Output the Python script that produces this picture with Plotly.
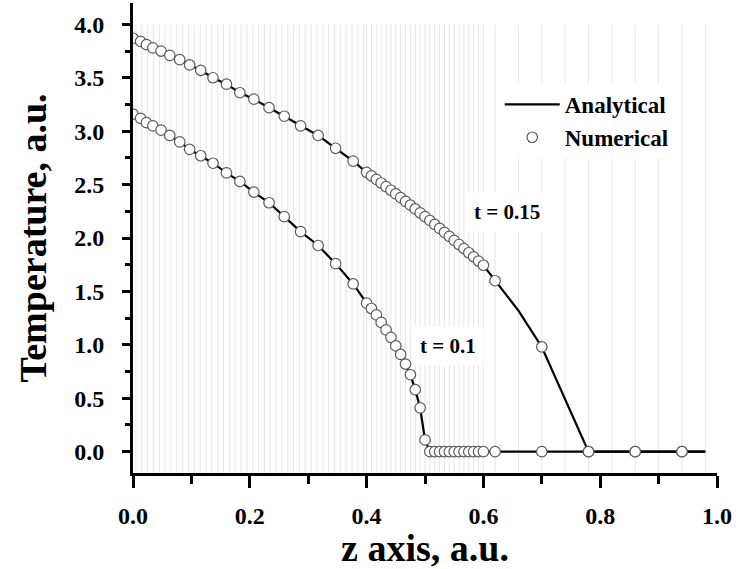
import plotly.graph_objects as go
import numpy as np

# ---------------- data ----------------
# shared numerical node positions (z)
z_nodes = [0.000, 0.013, 0.023, 0.034, 0.048, 0.063, 0.080, 0.097, 0.116, 0.137,
           0.160, 0.183, 0.207, 0.233, 0.259, 0.287, 0.317, 0.347, 0.377,
           0.4000, 0.4083, 0.4167, 0.4250, 0.4333, 0.4417, 0.4500, 0.4583, 0.4667,
           0.4750, 0.4833, 0.4917, 0.5000, 0.5083, 0.5167, 0.5250, 0.5333, 0.5417,
           0.5500, 0.5583, 0.5667, 0.5750, 0.5833, 0.5917, 0.6000,
           0.62, 0.70, 0.78, 0.86, 0.94]

# numerical temperatures, t = 0.15
T_num_015 = [3.87, 3.84, 3.81, 3.78, 3.75, 3.71, 3.67, 3.62, 3.57, 3.50,
             3.44, 3.36, 3.30, 3.22, 3.14, 3.05, 2.96, 2.84, 2.72,
             2.615, 2.582, 2.549, 2.515, 2.481, 2.447, 2.413, 2.378, 2.343,
             2.307, 2.272, 2.236, 2.200, 2.164, 2.127, 2.090, 2.053, 2.015,
             1.978, 1.939, 1.901, 1.862, 1.824, 1.784, 1.745,
             1.60, 0.98, 0.0, 0.0, 0.0]

# numerical temperatures, t = 0.1
T_num_010 = [3.16, 3.12, 3.08, 3.05, 3.01, 2.96, 2.90, 2.83, 2.77, 2.70,
             2.61, 2.53, 2.43, 2.33, 2.20, 2.06, 1.93, 1.76, 1.57,
             1.39, 1.34, 1.28, 1.21, 1.14, 1.07, 0.99, 0.91, 0.82,
             0.72, 0.58, 0.41, 0.11, 0.0, 0.0, 0.0, 0.0, 0.0,
             0.0, 0.0, 0.0, 0.0, 0.0, 0.0, 0.0,
             0.0, 0.0, 0.0, 0.0, 0.0]

# analytical curve: nodes up to z = 0.62 plus the coarse analytic points beyond
z_ana_tail_015 = [0.66, 0.70, 0.74, 0.78, 0.82, 0.86, 0.90, 0.94, 0.98]
T_ana_tail_015 = [1.32, 0.98, 0.49, 0.0, 0.0, 0.0, 0.0, 0.0, 0.0]
z_ana_tail_010 = [0.98]
T_ana_tail_010 = [0.0]

labels = ["t = 0.15", "t = 0.1"]
label_pos = [(0.640, 2.24), (0.539, 0.99)]

# background mesh lines (grey verticals)
mesh_fine_step = 0.01
mesh_finer_step = 1 / 120
mesh_coarse = [0.62, 0.66, 0.70, 0.74, 0.78, 0.82, 0.86, 0.90, 0.94, 0.98]
mesh_top, mesh_bottom = 4.0, -0.2

# ---------------- figure ----------------
FONT = "Liberation Serif"

mesh_x = list(np.arange(0.005, 0.4, mesh_fine_step)) + \
    list(np.arange(0.4, 0.6 + 1e-9, mesh_finer_step)) + mesh_coarse
gx, gy = [], []
for m in mesh_x:
    gx += [m, m, None]
    gy += [mesh_bottom, mesh_top, None]

fig = go.Figure()
fig.add_trace(go.Scatter(x=gx, y=gy, mode="lines",
                         line=dict(color="#e6e6e6", width=1),
                         hoverinfo="skip", showlegend=False))

n_keep = z_nodes.index(0.62) + 1
z_ana_015 = z_nodes[:n_keep] + z_ana_tail_015
T_ana_015 = T_num_015[:n_keep] + T_ana_tail_015
z_ana_010 = z_nodes + z_ana_tail_010
T_ana_010 = T_num_010 + T_ana_tail_010

line_style = dict(color="black", width=2.2)
fig.add_trace(go.Scatter(x=z_ana_015, y=T_ana_015, mode="lines", line=line_style,
                         name="Analytical", showlegend=True))
fig.add_trace(go.Scatter(x=z_ana_010, y=T_ana_010, mode="lines", line=line_style,
                         name="Analytical", showlegend=False))

marker_style = dict(symbol="circle", size=10.5, color="white",
                    line=dict(color="#5a5a5a", width=1.2))
fig.add_trace(go.Scatter(x=z_nodes, y=T_num_015, mode="markers", marker=marker_style,
                         name="Numerical", showlegend=True))
fig.add_trace(go.Scatter(x=z_nodes, y=T_num_010, mode="markers", marker=marker_style,
                         name="Numerical", showlegend=False))

for txt, (ax, ay) in zip(labels, label_pos):
    fig.add_annotation(x=ax, y=ay, text=txt, showarrow=False, bgcolor="white",
                       borderpad=7,
                       font=dict(family=FONT, size=21, color="black", weight="bold"))

tickfont = dict(family=FONT, size=24, color="black", weight="bold")
titlefont = dict(family=FONT, size=38, color="black", weight="bold")

fig.update_layout(
    width=736, height=569,
    margin=dict(l=133, r=19, t=3, b=96),
    plot_bgcolor="white", paper_bgcolor="white",
    xaxis=dict(range=[0, 1], dtick=0.2, tick0=0, tickformat=".1f",
               showline=True, linecolor="black", linewidth=3,
               ticks="outside", ticklen=12, tickwidth=2.5, tickcolor="black",
               showgrid=False, zeroline=False, tickfont=tickfont,
               ticklabelstandoff=7,
               minor=dict(dtick=0.1, ticks="outside", ticklen=8, tickwidth=2.5,
                          tickcolor="black", showgrid=False),
               title=dict(text="z axis, a.u.", font=titlefont, standoff=2)),
    yaxis=dict(range=[-0.2, 4.2], dtick=0.5, tick0=0, tickformat=".1f",
               showline=True, linecolor="black", linewidth=3,
               ticks="outside", ticklen=8, tickwidth=2.5, tickcolor="black",
               showgrid=False, zeroline=False, tickfont=tickfont,
               ticklabelstandoff=13,
               minor=dict(dtick=0.25, ticks="outside", ticklen=5, tickwidth=2.5,
                          tickcolor="black", showgrid=False),
               title=dict(text="Temperature, a.u.", font=titlefont, standoff=16)),
    legend=dict(x=0.628, y=0.83, xanchor="left", yanchor="top",
                bgcolor="white", font=dict(family=FONT, size=23, color="black",
                                           weight="bold"),
                tracegroupgap=0, itemwidth=55),
    showlegend=True,
)

fig.write_html("out.html")
